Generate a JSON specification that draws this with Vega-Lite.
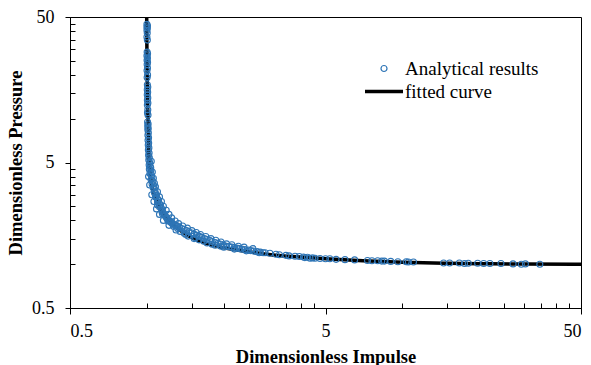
{
  "$schema": "https://vega.github.io/schema/vega-lite/v6.json",
  "width": 511,
  "height": 291,
  "autosize": {"type": "none"},
  "padding": {"left": 70, "top": 17, "right": 10, "bottom": 57},
  "config": {
    "font": "Times New Roman, Liberation Serif, serif",
    "view": {"stroke": "black", "strokeWidth": 1},
    "axis": {
      "domainColor": "black",
      "domainWidth": 1,
      "tickColor": "black",
      "tickWidth": 1,
      "grid": false,
      "labelFont": "Times New Roman, Liberation Serif, serif",
      "labelFontSize": 18,
      "labelColor": "black",
      "titleFont": "Times New Roman, Liberation Serif, serif",
      "titleFontSize": 18.5,
      "titleFontWeight": "bold",
      "titleColor": "black"
    }
  },
  "datasets": {
    "curve": [
      {"I": 0.998, "P": 50, "series": "fitted curve"},
      {"I": 1.0, "P": 30, "series": "fitted curve"},
      {"I": 1.004, "P": 15, "series": "fitted curve"},
      {"I": 1.01, "P": 10, "series": "fitted curve"},
      {"I": 1.015, "P": 7, "series": "fitted curve"},
      {"I": 1.019, "P": 5.2, "series": "fitted curve"},
      {"I": 1.03, "P": 4.2, "series": "fitted curve"},
      {"I": 1.045, "P": 3.5, "series": "fitted curve"},
      {"I": 1.07, "P": 3.0, "series": "fitted curve"},
      {"I": 1.1, "P": 2.6, "series": "fitted curve"},
      {"I": 1.15, "P": 2.25, "series": "fitted curve"},
      {"I": 1.212, "P": 2.01, "series": "fitted curve"},
      {"I": 1.3, "P": 1.8, "series": "fitted curve"},
      {"I": 1.38, "P": 1.66, "series": "fitted curve"},
      {"I": 1.475, "P": 1.545, "series": "fitted curve"},
      {"I": 1.6, "P": 1.45, "series": "fitted curve"},
      {"I": 1.75, "P": 1.37, "series": "fitted curve"},
      {"I": 1.9, "P": 1.32, "series": "fitted curve"},
      {"I": 2.05, "P": 1.285, "series": "fitted curve"},
      {"I": 2.5, "P": 1.22, "series": "fitted curve"},
      {"I": 3.0, "P": 1.165, "series": "fitted curve"},
      {"I": 4.0, "P": 1.12, "series": "fitted curve"},
      {"I": 5.0, "P": 1.09, "series": "fitted curve"},
      {"I": 7.0, "P": 1.055, "series": "fitted curve"},
      {"I": 10, "P": 1.03, "series": "fitted curve"},
      {"I": 15, "P": 1.015, "series": "fitted curve"},
      {"I": 20, "P": 1.008, "series": "fitted curve"},
      {"I": 30, "P": 1.002, "series": "fitted curve"},
      {"I": 50, "P": 0.998, "series": "fitted curve"}
    ],
    "points": [
      {"I": 1.0, "P": 44.5, "series": "Analytical results"},
      {"I": 1.005, "P": 43.5, "series": "Analytical results"},
      {"I": 1.0, "P": 42.7, "series": "Analytical results"},
      {"I": 1.004, "P": 41.8, "series": "Analytical results"},
      {"I": 1.0, "P": 40.5, "series": "Analytical results"},
      {"I": 1.003, "P": 38.8, "series": "Analytical results"},
      {"I": 1.0, "P": 36.4, "series": "Analytical results"},
      {"I": 1.004, "P": 34.7, "series": "Analytical results"},
      {"I": 1.002, "P": 28.7, "series": "Analytical results"},
      {"I": 1.006, "P": 27.9, "series": "Analytical results"},
      {"I": 1.0, "P": 27.1, "series": "Analytical results"},
      {"I": 1.005, "P": 26.1, "series": "Analytical results"},
      {"I": 1.001, "P": 25.2, "series": "Analytical results"},
      {"I": 1.006, "P": 24.4, "series": "Analytical results"},
      {"I": 1.002, "P": 23.6, "series": "Analytical results"},
      {"I": 1.005, "P": 22.3, "series": "Analytical results"},
      {"I": 1.001, "P": 21.4, "series": "Analytical results"},
      {"I": 1.006, "P": 20.0, "series": "Analytical results"},
      {"I": 1.002, "P": 19.2, "series": "Analytical results"},
      {"I": 1.004, "P": 17.1, "series": "Analytical results"},
      {"I": 1.008, "P": 16.5, "series": "Analytical results"},
      {"I": 1.003, "P": 15.8, "series": "Analytical results"},
      {"I": 1.007, "P": 15.2, "series": "Analytical results"},
      {"I": 1.003, "P": 14.6, "series": "Analytical results"},
      {"I": 1.008, "P": 13.9, "series": "Analytical results"},
      {"I": 1.004, "P": 13.4, "series": "Analytical results"},
      {"I": 1.009, "P": 12.8, "series": "Analytical results"},
      {"I": 1.004, "P": 12.4, "series": "Analytical results"},
      {"I": 1.008, "P": 11.5, "series": "Analytical results"},
      {"I": 1.005, "P": 11.0, "series": "Analytical results"},
      {"I": 1.01, "P": 10.6, "series": "Analytical results"},
      {"I": 1.006, "P": 9.5, "series": "Analytical results"},
      {"I": 1.011, "P": 9.2, "series": "Analytical results"},
      {"I": 1.007, "P": 8.9, "series": "Analytical results"},
      {"I": 1.012, "P": 8.6, "series": "Analytical results"},
      {"I": 1.008, "P": 8.4, "series": "Analytical results"},
      {"I": 1.013, "P": 8.0, "series": "Analytical results"},
      {"I": 1.009, "P": 7.7, "series": "Analytical results"},
      {"I": 1.015, "P": 7.4, "series": "Analytical results"},
      {"I": 1.01, "P": 7.1, "series": "Analytical results"},
      {"I": 1.016, "P": 6.8, "series": "Analytical results"},
      {"I": 1.012, "P": 6.6, "series": "Analytical results"},
      {"I": 1.018, "P": 6.3, "series": "Analytical results"},
      {"I": 1.013, "P": 6.1, "series": "Analytical results"},
      {"I": 1.02, "P": 5.8, "series": "Analytical results"},
      {"I": 1.015, "P": 5.6, "series": "Analytical results"},
      {"I": 1.022, "P": 5.4, "series": "Analytical results"},
      {"I": 1.017, "P": 5.2, "series": "Analytical results"},
      {"I": 1.025, "P": 5.0, "series": "Analytical results"},
      {"I": 1.02, "P": 4.8, "series": "Analytical results"},
      {"I": 1.03, "P": 4.7, "series": "Analytical results"},
      {"I": 1.022, "P": 4.5, "series": "Analytical results"},
      {"I": 1.035, "P": 4.4, "series": "Analytical results"},
      {"I": 1.028, "P": 4.2, "series": "Analytical results"},
      {"I": 1.04, "P": 4.1, "series": "Analytical results"},
      {"I": 1.045, "P": 3.95, "series": "Analytical results"},
      {"I": 1.038, "P": 3.8, "series": "Analytical results"},
      {"I": 1.055, "P": 3.7, "series": "Analytical results"},
      {"I": 1.048, "P": 3.55, "series": "Analytical results"},
      {"I": 1.065, "P": 3.45, "series": "Analytical results"},
      {"I": 1.058, "P": 3.35, "series": "Analytical results"},
      {"I": 1.075, "P": 3.25, "series": "Analytical results"},
      {"I": 1.07, "P": 3.1, "series": "Analytical results"},
      {"I": 1.085, "P": 3.05, "series": "Analytical results"},
      {"I": 1.09, "P": 2.95, "series": "Analytical results"},
      {"I": 1.08, "P": 2.9, "series": "Analytical results"},
      {"I": 1.1, "P": 2.82, "series": "Analytical results"},
      {"I": 1.11, "P": 2.75, "series": "Analytical results"},
      {"I": 1.1, "P": 2.68, "series": "Analytical results"},
      {"I": 1.12, "P": 2.6, "series": "Analytical results"},
      {"I": 1.13, "P": 2.55, "series": "Analytical results"},
      {"I": 1.12, "P": 2.48, "series": "Analytical results"},
      {"I": 1.14, "P": 2.42, "series": "Analytical results"},
      {"I": 1.15, "P": 2.36, "series": "Analytical results"},
      {"I": 1.145, "P": 2.3, "series": "Analytical results"},
      {"I": 1.16, "P": 2.25, "series": "Analytical results"},
      {"I": 1.17, "P": 2.2, "series": "Analytical results"},
      {"I": 1.18, "P": 2.15, "series": "Analytical results"},
      {"I": 1.19, "P": 2.1, "series": "Analytical results"},
      {"I": 1.2, "P": 2.05, "series": "Analytical results"},
      {"I": 1.22, "P": 2.0, "series": "Analytical results"},
      {"I": 1.235, "P": 1.97, "series": "Analytical results"},
      {"I": 1.25, "P": 1.93, "series": "Analytical results"},
      {"I": 1.26, "P": 1.9, "series": "Analytical results"},
      {"I": 1.28, "P": 1.87, "series": "Analytical results"},
      {"I": 1.3, "P": 1.84, "series": "Analytical results"},
      {"I": 1.32, "P": 1.82, "series": "Analytical results"},
      {"I": 1.34, "P": 1.79, "series": "Analytical results"},
      {"I": 1.37, "P": 1.76, "series": "Analytical results"},
      {"I": 1.4, "P": 1.73, "series": "Analytical results"},
      {"I": 1.43, "P": 1.7, "series": "Analytical results"},
      {"I": 1.46, "P": 1.67, "series": "Analytical results"},
      {"I": 1.5, "P": 1.64, "series": "Analytical results"},
      {"I": 1.53, "P": 1.61, "series": "Analytical results"},
      {"I": 1.57, "P": 1.58, "series": "Analytical results"},
      {"I": 1.6, "P": 1.56, "series": "Analytical results"},
      {"I": 1.64, "P": 1.53, "series": "Analytical results"},
      {"I": 1.68, "P": 1.5, "series": "Analytical results"},
      {"I": 1.72, "P": 1.48, "series": "Analytical results"},
      {"I": 1.76, "P": 1.46, "series": "Analytical results"},
      {"I": 1.8, "P": 1.43, "series": "Analytical results"},
      {"I": 1.85, "P": 1.41, "series": "Analytical results"},
      {"I": 1.9, "P": 1.39, "series": "Analytical results"},
      {"I": 1.95, "P": 1.37, "series": "Analytical results"},
      {"I": 2.0, "P": 1.35, "series": "Analytical results"},
      {"I": 2.05, "P": 1.33, "series": "Analytical results"},
      {"I": 2.1, "P": 1.32, "series": "Analytical results"},
      {"I": 2.15, "P": 1.31, "series": "Analytical results"},
      {"I": 2.2, "P": 1.3, "series": "Analytical results"},
      {"I": 2.25, "P": 1.29, "series": "Analytical results"},
      {"I": 2.3, "P": 1.28, "series": "Analytical results"},
      {"I": 2.35, "P": 1.27, "series": "Analytical results"},
      {"I": 2.42, "P": 1.26, "series": "Analytical results"},
      {"I": 2.5, "P": 1.25, "series": "Analytical results"},
      {"I": 2.55, "P": 1.24, "series": "Analytical results"},
      {"I": 2.62, "P": 1.23, "series": "Analytical results"},
      {"I": 2.7, "P": 1.22, "series": "Analytical results"},
      {"I": 2.78, "P": 1.21, "series": "Analytical results"},
      {"I": 2.85, "P": 1.2, "series": "Analytical results"},
      {"I": 2.9, "P": 1.2, "series": "Analytical results"},
      {"I": 3.03, "P": 1.19, "series": "Analytical results"},
      {"I": 3.2, "P": 1.17, "series": "Analytical results"},
      {"I": 3.3, "P": 1.16, "series": "Analytical results"},
      {"I": 3.5, "P": 1.15, "series": "Analytical results"},
      {"I": 3.6, "P": 1.14, "series": "Analytical results"},
      {"I": 3.8, "P": 1.135, "series": "Analytical results"},
      {"I": 3.95, "P": 1.13, "series": "Analytical results"},
      {"I": 4.1, "P": 1.12, "series": "Analytical results"},
      {"I": 4.15, "P": 1.11, "series": "Analytical results"},
      {"I": 4.25, "P": 1.115, "series": "Analytical results"},
      {"I": 4.35, "P": 1.1, "series": "Analytical results"},
      {"I": 4.45, "P": 1.105, "series": "Analytical results"},
      {"I": 4.55, "P": 1.1, "series": "Analytical results"},
      {"I": 4.76, "P": 1.095, "series": "Analytical results"},
      {"I": 5.0, "P": 1.09, "series": "Analytical results"},
      {"I": 5.2, "P": 1.09, "series": "Analytical results"},
      {"I": 5.5, "P": 1.08, "series": "Analytical results"},
      {"I": 5.96, "P": 1.075, "series": "Analytical results"},
      {"I": 6.5, "P": 1.07, "series": "Analytical results"},
      {"I": 7.3, "P": 1.06, "series": "Analytical results"},
      {"I": 7.6, "P": 1.055, "series": "Analytical results"},
      {"I": 8.0, "P": 1.055, "series": "Analytical results"},
      {"I": 8.3, "P": 1.05, "series": "Analytical results"},
      {"I": 8.5, "P": 1.05, "series": "Analytical results"},
      {"I": 9.0, "P": 1.045, "series": "Analytical results"},
      {"I": 9.6, "P": 1.04, "series": "Analytical results"},
      {"I": 10.35, "P": 1.04, "series": "Analytical results"},
      {"I": 10.55, "P": 1.035, "series": "Analytical results"},
      {"I": 11.05, "P": 1.035, "series": "Analytical results"},
      {"I": 14.5, "P": 1.02, "series": "Analytical results"},
      {"I": 15.3, "P": 1.02, "series": "Analytical results"},
      {"I": 16.7, "P": 1.02, "series": "Analytical results"},
      {"I": 17.5, "P": 1.01, "series": "Analytical results"},
      {"I": 18.1, "P": 1.015, "series": "Analytical results"},
      {"I": 19.7, "P": 1.015, "series": "Analytical results"},
      {"I": 20.8, "P": 1.01, "series": "Analytical results"},
      {"I": 22.0, "P": 1.01, "series": "Analytical results"},
      {"I": 24.3, "P": 1.01, "series": "Analytical results"},
      {"I": 27.1, "P": 1.005, "series": "Analytical results"},
      {"I": 29.2, "P": 1.0, "series": "Analytical results"},
      {"I": 30.3, "P": 1.005, "series": "Analytical results"},
      {"I": 34.5, "P": 1.0, "series": "Analytical results"},
      {"I": 1.04, "P": 5.1, "series": "Analytical results"},
      {"I": 1.035, "P": 4.6, "series": "Analytical results"},
      {"I": 1.05, "P": 4.3, "series": "Analytical results"},
      {"I": 1.06, "P": 3.9, "series": "Analytical results"},
      {"I": 1.07, "P": 3.6, "series": "Analytical results"},
      {"I": 1.08, "P": 3.4, "series": "Analytical results"},
      {"I": 1.1, "P": 3.15, "series": "Analytical results"},
      {"I": 1.12, "P": 2.9, "series": "Analytical results"},
      {"I": 1.14, "P": 2.7, "series": "Analytical results"},
      {"I": 1.16, "P": 2.5, "series": "Analytical results"},
      {"I": 1.19, "P": 2.35, "series": "Analytical results"},
      {"I": 1.22, "P": 2.2, "series": "Analytical results"},
      {"I": 1.25, "P": 2.08, "series": "Analytical results"},
      {"I": 1.29, "P": 1.98, "series": "Analytical results"},
      {"I": 1.33, "P": 1.9, "series": "Analytical results"},
      {"I": 1.38, "P": 1.83, "series": "Analytical results"},
      {"I": 1.44, "P": 1.77, "series": "Analytical results"},
      {"I": 1.5, "P": 1.7, "series": "Analytical results"},
      {"I": 1.56, "P": 1.65, "series": "Analytical results"},
      {"I": 1.62, "P": 1.6, "series": "Analytical results"},
      {"I": 1.7, "P": 1.55, "series": "Analytical results"},
      {"I": 1.78, "P": 1.5, "series": "Analytical results"},
      {"I": 1.86, "P": 1.46, "series": "Analytical results"},
      {"I": 1.95, "P": 1.42, "series": "Analytical results"},
      {"I": 2.05, "P": 1.38, "series": "Analytical results"},
      {"I": 2.15, "P": 1.36, "series": "Analytical results"},
      {"I": 2.28, "P": 1.33, "series": "Analytical results"},
      {"I": 2.4, "P": 1.31, "series": "Analytical results"},
      {"I": 2.6, "P": 1.28, "series": "Analytical results"},
      {"I": 1.015, "P": 4.0, "series": "Analytical results"},
      {"I": 1.025, "P": 3.5, "series": "Analytical results"},
      {"I": 1.045, "P": 3.0, "series": "Analytical results"},
      {"I": 1.065, "P": 2.7, "series": "Analytical results"},
      {"I": 1.09, "P": 2.4, "series": "Analytical results"},
      {"I": 1.12, "P": 2.2, "series": "Analytical results"},
      {"I": 1.16, "P": 2.0, "series": "Analytical results"},
      {"I": 1.22, "P": 1.85, "series": "Analytical results"},
      {"I": 1.3, "P": 1.72, "series": "Analytical results"},
      {"I": 1.4, "P": 1.63, "series": "Analytical results"},
      {"I": 1.55, "P": 1.52, "series": "Analytical results"},
      {"I": 1.1, "P": 2.55, "series": "Analytical results"},
      {"I": 1.15, "P": 2.22, "series": "Analytical results"},
      {"I": 1.21, "P": 1.98, "series": "Analytical results"},
      {"I": 1.27, "P": 1.82, "series": "Analytical results"},
      {"I": 1.35, "P": 1.68, "series": "Analytical results"},
      {"I": 1.45, "P": 1.56, "series": "Analytical results"},
      {"I": 1.6, "P": 1.47, "series": "Analytical results"},
      {"I": 1.72, "P": 1.4, "series": "Analytical results"},
      {"I": 1.85, "P": 1.35, "series": "Analytical results"},
      {"I": 2.0, "P": 1.31, "series": "Analytical results"},
      {"I": 2.2, "P": 1.27, "series": "Analytical results"},
      {"I": 2.45, "P": 1.235, "series": "Analytical results"},
      {"I": 2.75, "P": 1.2, "series": "Analytical results"},
      {"I": 1.67, "P": 1.44, "series": "Analytical results"},
      {"I": 1.95, "P": 1.33, "series": "Analytical results"},
      {"I": 1.24, "P": 1.94, "series": "Analytical results"},
      {"I": 1.32, "P": 1.76, "series": "Analytical results"},
      {"I": 1.42, "P": 1.6, "series": "Analytical results"},
      {"I": 1.53, "P": 1.5, "series": "Analytical results"},
      {"I": 1.8, "P": 1.37, "series": "Analytical results"}
    ]
  },
  "resolve": {"axis": {"x": "independent", "y": "independent"}},
  "layer": [
    {
      "data": {"name": "curve"},
      "mark": {"type": "line", "strokeWidth": 3.5, "interpolate": "monotone"},
      "encoding": {
        "x": {
          "field": "I", "type": "quantitative",
          "scale": {"type": "log", "domain": [0.5, 50], "nice": false},
          "axis": {"orient": "bottom", "values": [1, 1.5, 2, 2.5, 3, 3.5, 4, 4.5, 10, 15, 20, 25, 30, 35, 40, 45], "tickSize": -5, "labels": false, "title": null}
        },
        "y": {
          "field": "P", "type": "quantitative",
          "scale": {"type": "log", "domain": [0.5, 50], "nice": false},
          "axis": {"orient": "left", "values": [1, 1.5, 2, 2.5, 3, 3.5, 4, 4.5, 10, 15, 20, 25, 30, 35, 40, 45], "tickSize": -5, "labels": false, "title": null}
        },
        "color": {
          "field": "series", "type": "nominal",
          "scale": {"domain": ["Analytical results", "fitted curve"], "range": ["#2e75b6", "#000000"]},
          "legend": {
            "orient": "none", "legendX": 295, "legendY": 42, "title": null,
            "labelFont": "Times New Roman, Liberation Serif, serif", "labelFontSize": 19, "labelColor": "black",
            "symbolSize": 36, "rowPadding": 3,
            "encode": {
              "symbols": {
                "update": {
                  "x": {"value": 19},
                  "shape": {"signal": "datum.value === 'fitted curve' ? 'stroke' : 'circle'"},
                  "size": {"signal": "datum.value === 'fitted curve' ? 1444 : 36"},
                  "strokeWidth": {"signal": "datum.value === 'fitted curve' ? 3.5 : 1.2"},
                  "fill": {"value": "transparent"}
                }
              },
              "labels": {
                "update": {"x": {"value": 40}}
              }
            }
          }
        }
      }
    },
    {
      "data": {"name": "points"},
      "mark": {"type": "point", "filled": false, "size": 36, "strokeWidth": 1.1, "opacity": 1},
      "encoding": {
        "x": {
          "field": "I", "type": "quantitative",
          "scale": {"type": "log", "domain": [0.5, 50], "nice": false},
          "axis": {"orient": "bottom", "values": [0.5, 5, 50], "format": "~g", "tickSize": 6, "labelPadding": 8, "title": "Dimensionless Impulse", "titlePadding": 7}
        },
        "y": {
          "field": "P", "type": "quantitative",
          "scale": {"type": "log", "domain": [0.5, 50], "nice": false},
          "axis": {"orient": "left", "values": [0.5, 5, 50], "format": "~g", "tickSize": 5, "labelPadding": 11, "title": "Dimensionless Pressure", "titlePadding": 6}
        },
        "color": {"field": "series", "type": "nominal"}
      }
    }
  ]
}
